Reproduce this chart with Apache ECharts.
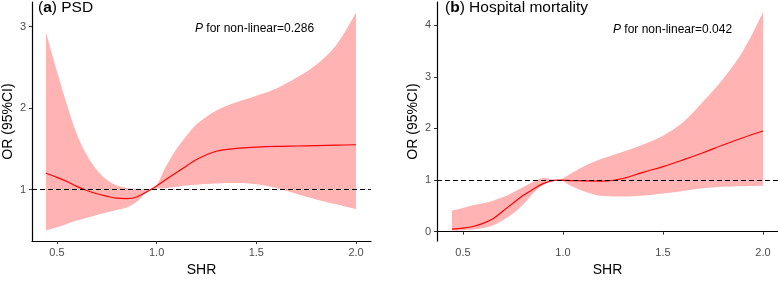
<!DOCTYPE html>
<html>
<head>
<meta charset="utf-8">
<script src="https://cdn.jsdelivr.net/npm/echarts@6/dist/echarts.min.js"></script>
<style>
html,body{margin:0;padding:0;background:#fff;}
#main{width:778px;height:282px;}
</style>
</head>
<body>
<div id="main"></div>
<script>
// (a) PSD
var shrA = [0.445, 0.5, 0.55, 0.6, 0.65, 0.7, 0.75, 0.8, 0.85, 0.9, 0.97, 1.05, 1.1, 1.15, 1.2, 1.3, 1.4, 1.5, 1.6, 1.7, 1.8, 1.9, 2.0];
var orA    = [1.20, 1.15, 1.10, 1.04, 0.99, 0.95, 0.92, 0.895, 0.89, 0.91, 1.00, 1.13, 1.21, 1.29, 1.37, 1.47, 1.505, 1.52, 1.53, 1.535, 1.54, 1.545, 1.55];
var upperA = [2.93, 2.45, 2.04, 1.68, 1.42, 1.24, 1.12, 1.05, 1.02, 1.01, 1.00, 1.30, 1.50, 1.66, 1.80, 1.97, 2.07, 2.15, 2.24, 2.37, 2.53, 2.77, 3.17];
var lowerA = [0.50, 0.54, 0.58, 0.62, 0.655, 0.69, 0.72, 0.75, 0.78, 0.85, 1.00, 1.02, 1.035, 1.05, 1.06, 1.075, 1.08, 1.065, 1.02, 0.95, 0.88, 0.82, 0.76];

// (b) Hospital mortality
var shrB = [0.445, 0.5, 0.55, 0.6, 0.65, 0.7, 0.75, 0.8, 0.85, 0.9, 0.97, 1.05, 1.1, 1.2, 1.3, 1.4, 1.5, 1.6, 1.7, 1.8, 1.9, 2.0];
var orB    = [0.05, 0.07, 0.10, 0.16, 0.25, 0.40, 0.55, 0.70, 0.82, 0.93, 1.00, 0.99, 0.985, 0.98, 1.03, 1.15, 1.26, 1.39, 1.53, 1.68, 1.82, 1.95];
var upperB = [0.41, 0.46, 0.51, 0.55, 0.60, 0.67, 0.76, 0.86, 0.96, 1.04, 1.00, 1.15, 1.26, 1.42, 1.55, 1.69, 1.86, 2.12, 2.52, 2.96, 3.50, 4.25];
var lowerB = [0.02, 0.025, 0.04, 0.07, 0.12, 0.22, 0.35, 0.52, 0.74, 0.90, 1.00, 0.87, 0.79, 0.69, 0.68, 0.70, 0.74, 0.79, 0.84, 0.87, 0.88, 0.89];

var xTicks = [0.5, 1.0, 1.5, 2.0];
var yTicksA = [1, 2, 3];
var yTicksB = [0, 1, 2, 3, 4];

function pairs(xs, ys) {
	var out = [];
	for (var i = 0; i < xs.length; i++) {
		out.push([xs[i], ys[i]]);
	}
	return out;
}

var labelColor = '#4D4D4D';
var fill = '#FFB3B3';
var font = 'Liberation Sans';

function xAxisCfg(idx, min, max) {
	return {
		type: 'value', gridIndex: idx, min: min, max: max, z: 10,
		name: 'SHR', nameLocation: 'middle', nameGap: 21,
		nameTextStyle: {fontSize: 14, color: '#000', fontFamily: font},
		axisLine: {show: true, lineStyle: {color: '#000', width: 1.2}},
		axisTick: {show: true, length: 3, customValues: xTicks, lineStyle: {color: '#333'}},
		axisLabel: {customValues: xTicks, color: labelColor, fontSize: 11, margin: 6, fontFamily: font,
			formatter: function(v) { return v.toFixed(1); }},
		splitLine: {show: false}
	};
}
function yAxisCfg(idx, min, max, ticks) {
	return {
		type: 'value', gridIndex: idx, min: min, max: max, z: 10,
		name: 'OR (95%CI)', nameLocation: 'middle', nameGap: 17,
		nameTextStyle: {fontSize: 14, color: '#000', fontFamily: font},
		axisLine: {show: true, lineStyle: {color: '#000', width: 1.2}},
		axisTick: {show: true, length: 3, customValues: ticks, lineStyle: {color: '#333'}},
		axisLabel: {customValues: ticks, color: labelColor, fontSize: 11, margin: 6, fontFamily: font},
		splitLine: {show: false}
	};
}
// CI band: pink area under the upper bound, covered by a white area under the lower bound
function bandSeries(idx, xs, up, lo, or) {
	return [{
		type: 'line', xAxisIndex: idx, yAxisIndex: idx, z: 1,
		data: pairs(xs, up), smooth: 0.35, showSymbol: false, silent: true,
		lineStyle: {opacity: 0}, areaStyle: {color: fill, opacity: 1, origin: 'start'}
	}, {
		type: 'line', xAxisIndex: idx, yAxisIndex: idx, z: 2,
		data: pairs(xs, lo), smooth: 0.35, showSymbol: false, silent: true,
		lineStyle: {opacity: 0}, areaStyle: {color: '#fff', opacity: 1, origin: 'start'}
	}, {
		type: 'line', xAxisIndex: idx, yAxisIndex: idx, z: 4,
		data: pairs(xs, or), smooth: 0.35, showSymbol: false, silent: true,
		lineStyle: {color: '#FF0000', width: 1.2},
		markLine: {
			silent: true, symbol: 'none', label: {show: false},
			lineStyle: {color: '#000', type: [5, 3], width: 1.2},
			data: [{yAxis: 1}]
		}
	}];
}

var tN = {fontSize: 15.5, color: '#000', fontWeight: 'normal', fontFamily: font};
var tB = {fontSize: 15.5, color: '#000', fontWeight: 'bold', fontFamily: font};
var pI = {fontSize: 12, color: '#000', fontWeight: 'normal', fontStyle: 'italic', fontFamily: font};
var pN = {fontSize: 12, color: '#000', fontWeight: 'normal', fontFamily: font};
var option = {
	animation: false,
	title: [{
		text: '{n|(}{b|a}{n|) PSD}', left: 38, top: 0, padding: 0,
		textStyle: {fontWeight: 'normal', rich: {n: tN, b: tB}}
	}, {
		text: '{n|(}{b|b}{n|) Hospital mortality}', left: 445, top: 0, padding: 0,
		textStyle: {fontWeight: 'normal', rich: {n: tN, b: tB}}
	}, {
		text: '{i|P}{n| for non-linear=0.286}', left: 195, top: 23, padding: 0,
		textStyle: {fontWeight: 'normal', rich: {i: pI, n: pN}}
	}, {
		text: '{i|P}{n| for non-linear=0.042}', left: 613, top: 24, padding: 0,
		textStyle: {fontWeight: 'normal', rich: {i: pI, n: pN}}
	}],
	grid: [
		{left: 31, top: 2, width: 340, height: 246},
		{left: 437, top: 2, width: 341, height: 246}
	],
	xAxis: [xAxisCfg(0, 0.375, 2.075), xAxisCfg(1, 0.37, 2.075)],
	yAxis: [yAxisCfg(0, 0.369, 3.3, yTicksA), yAxisCfg(1, -0.183, 4.45, yTicksB)],
	series: bandSeries(0, shrA, upperA, lowerA, orA).concat(bandSeries(1, shrB, upperB, lowerB, orB))
};

var chart = echarts.init(document.getElementById('main'));
chart.setOption(option);
</script>
</body>
</html>
